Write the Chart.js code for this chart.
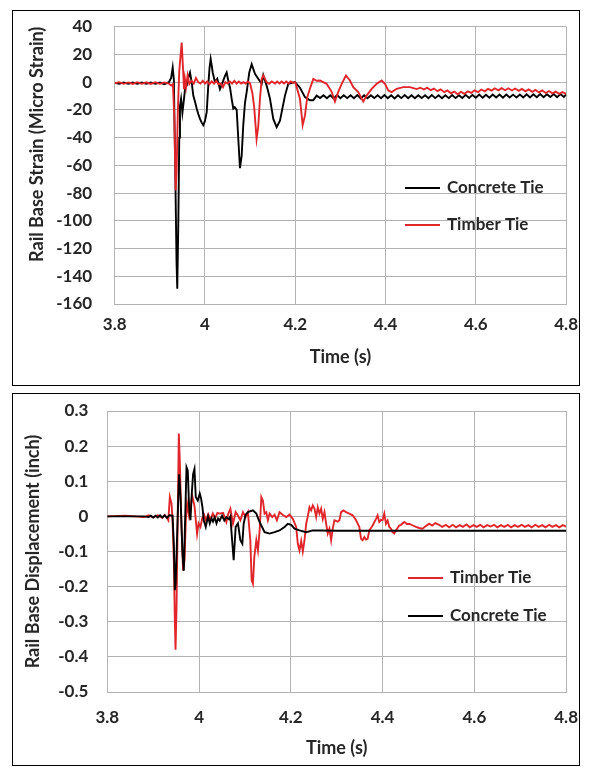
<!DOCTYPE html>
<html>
<head>
<meta charset="utf-8">
<script src="https://cdn.jsdelivr.net/npm/chart.js@4.4.1/dist/chart.umd.min.js"></script>
<style>
  body { margin: 0; background: #fff; }
  .panel { position: absolute; box-sizing: border-box; border: 1.5px solid #000; }
  canvas { position: absolute; }
</style>
</head>
<body>
<div class="panel" style="left:12px;top:10px;width:568px;height:376px"></div>
<div class="panel" style="left:12px;top:393px;width:568px;height:373px"></div>
<canvas id="strainChart" width="564" height="371" style="left:14px;top:12px"></canvas>
<canvas id="dispChart" width="564" height="367" style="left:14px;top:396px"></canvas>
<script>
// tick labels
const timeTicks = [3.8, 4, 4.2, 4.4, 4.6, 4.8];
const strainTicks = [40, 20, 0, -20, -40, -60, -80, -100, -120, -140, -160];
const dispTicks = [0.3, 0.2, 0.1, 0, -0.1, -0.2, -0.3, -0.4, -0.5];

// top chart: rail base strain (micro strain)
const concreteStrainTime = [3.8, 3.81, 3.82, 3.83, 3.84, 3.85, 3.86, 3.87, 3.88, 3.89, 3.9, 3.91, 3.92, 3.925, 3.9285, 3.931, 3.934, 3.937, 3.9386, 3.941, 3.943, 3.9446, 3.947, 3.95, 3.9535, 3.9565, 3.9595, 3.963, 3.9668, 3.9705, 3.9741, 3.9778, 3.9816, 3.9852, 3.9889, 3.9925, 3.9962, 4.0, 4.0038, 4.0073, 4.01, 4.0126, 4.015, 4.0171, 4.0221, 4.0272, 4.0332, 4.0392, 4.0443, 4.048, 4.0516, 4.0555, 4.0591, 4.0627, 4.066, 4.0702, 4.0738, 4.0775, 4.0813, 4.0848, 4.0886, 4.0924, 4.0981, 4.1034, 4.1107, 4.118, 4.1256, 4.1291, 4.1366, 4.144, 4.1513, 4.1588, 4.1661, 4.1772, 4.1845, 4.1993, 4.2104, 4.2215, 4.2325, 4.2399, 4.2474,
  4.255, 4.2625, 4.27, 4.2775, 4.285, 4.2925, 4.3, 4.3075, 4.315, 4.3225, 4.33, 4.3375, 4.345, 4.3525, 4.36, 4.3675, 4.375, 4.3825, 4.39, 4.3975, 4.405, 4.4125, 4.42, 4.4275, 4.435, 4.4425, 4.45, 4.4575, 4.465, 4.4725, 4.48, 4.4875, 4.495, 4.5025, 4.51, 4.5175, 4.525, 4.5325, 4.54, 4.5475, 4.555, 4.5625, 4.57, 4.5775, 4.585, 4.5925, 4.6, 4.6075, 4.615, 4.6225, 4.63, 4.6375, 4.645, 4.6525, 4.66, 4.6675, 4.675, 4.6825, 4.69, 4.6975, 4.705, 4.7125, 4.72, 4.7275, 4.735, 4.7425, 4.75, 4.7575, 4.765, 4.7725, 4.78, 4.7875, 4.795, 4.8];
const concreteStrain = [-0.5, -1.2, -0.3, -1.2, -0.3, -1.2, -0.3, -1.2, -0.3, -1.2, -0.3, -1.5, 0, 3, 10.5, 2, -60, -130, -149, -100, -40, -17, -12, -22, -12, -3, -2.5, 3, 7, 0, -9.7, -14, -19, -23, -26.5, -29, -31, -28, -21.7, -2.5, 10, 16.8, 12, 7, 0, 2.4, -5, 0, 4.5, 7, 1, -4, -12, -19, -18, -20, -41, -62, -53, -31, -15, -7, 7, 13, 6, 2.4, -1.2, 5, -2.5, -12, -26.5, -32.5, -27.7, -9.7, -1.2, 0, -4, -10.8, -13, -13, -9.7,
  -11.5, -9.5, -11.6, -9.4, -11.7, -9.3, -11.6, -9.4, -11.5, -9.4, -11.6, -9.3, -11.7, -9.4, -11.6, -9.5, -11.5, -9.4, -11.6, -9.3, -11.6, -9.4, -11.7, -9.4, -11.5, -9.3, -11.6, -9.4, -11.6, -9.5, -11.5, -9.4, -11.6, -9.3, -11.5, -9.4, -11.6, -9.4, -11.5, -9.3, -11.5, -9.4, -11.4, -9.2, -11.4, -9.2,
  -11.2, -9.0, -11.3, -9.1, -11.2, -9.0, -11.1, -9.0, -11.2, -8.9, -11.1, -9.0, -11.0, -8.9, -11.1, -8.8, -11.0, -8.8,
  -10.8, -8.6, -10.8, -8.7, -10.7, -8.6, -10.8, -8.6, -10.7, -8.8];

const timberStrainTime = [3.8, 3.81, 3.82, 3.83, 3.84, 3.85, 3.86, 3.87, 3.88, 3.89, 3.9, 3.91, 3.92, 3.925, 3.929, 3.932, 3.935, 3.937, 3.94, 3.943, 3.9484, 3.951, 3.9535, 3.9555, 3.958, 3.9615, 3.9653, 3.97, 3.975, 3.98, 3.985, 3.99, 3.995, 4.0, 4.005, 4.01, 4.015, 4.02, 4.025, 4.03, 4.035, 4.04, 4.045, 4.05, 4.055, 4.06, 4.065, 4.07, 4.075, 4.08, 4.085, 4.09, 4.095, 4.1, 4.105, 4.109, 4.1143, 4.118, 4.1218, 4.1256, 4.1291, 4.1366, 4.142, 4.148, 4.155, 4.16, 4.165, 4.17, 4.175, 4.18, 4.185, 4.19, 4.195, 4.2, 4.2104, 4.2164, 4.2215, 4.2266, 4.2325, 4.2399, 4.2474, 4.2548, 4.262, 4.2695, 4.2806, 4.2879, 4.2952, 4.3028, 4.3123, 4.3211, 4.3285, 4.3395, 4.3506, 4.3581, 4.3692, 4.3803, 4.3914, 4.3987, 4.406, 4.4135, 4.4246, 4.4392, 4.454, 4.4689,
  4.477, 4.485, 4.492, 4.5, 4.507, 4.515, 4.522, 4.53, 4.537, 4.545, 4.552, 4.56, 4.567, 4.575, 4.582, 4.59, 4.597, 4.605, 4.612, 4.62, 4.627, 4.635, 4.642, 4.65, 4.657, 4.665, 4.672, 4.68, 4.687, 4.695, 4.702, 4.71, 4.717, 4.725, 4.732, 4.74, 4.747, 4.755, 4.762, 4.77, 4.777, 4.785, 4.792, 4.8];
const timberStrain = [-0.8, 0, -1.2, -0.2, -1.3, 0, -1.2, -0.1, -1.3, 0, -1.2, -0.2, -1, -2.5, -1.5, -25, -78, -65, -20, 8, 28.5, 12, -5, 2.4, -3.6, 4.8, -1.2, 1, -1, 3, 0, -1, 1, -1, 0.5, -1.5, 0.5, -1, 1, -1.5, -1, -3.6, 0, -1, 0.5, -1, 1, -1, 0.5, -1, 0, -1, 0.5, -1, -8, -18, -41, -32, -12, 2.4, 4.8, 0, -1.2, 0.5, -1, 0.5, -1, 0.5, -1, 0.5, -1, 0.5, -0.5, 0, -12, -31, -24, -10.8, -4.8, 2.4, 1, 1.2, 0, -1.2, -7, -14, -7, -1.2, 4.8, 1.2, -3.6, -7.2, -14, -9.7, -4.8, -1.2, 1.2, -1.2, -6, -7.2, -4.8, -3.6, -3.6, -5,
  -4.0, -5.3, -4.0, -5.8, -4.6, -6.5, -5.2, -7.2, -6.0, -8.0, -6.8, -8.8, -7.0, -8.4, -6.6, -7.8, -5.9, -7.2, -5.3, -6.6, -4.8, -6.1, -4.4, -5.9, -4.3, -5.8, -4.4, -6.0, -4.6, -6.3, -4.9, -6.6, -5.2, -7.0, -5.6, -7.4, -6.0, -7.8, -6.4, -8.1, -6.8, -8.4, -7.2, -8.4];

// bottom chart: rail base displacement (inch)
const concreteDispTime = [3.8, 3.84, 3.88, 3.89, 3.895, 3.9, 3.905, 3.91, 3.915, 3.92, 3.925, 3.93, 3.935, 3.9422, 3.945, 3.9472, 3.949, 3.9543, 3.9565, 3.9596, 3.9639, 3.9667, 3.9696, 3.9726, 3.9754, 3.9783, 3.9813, 3.9841, 3.987, 3.99, 3.9928, 3.9972, 4.0015, 4.0045, 4.0074, 4.0102, 4.0146, 4.0196, 4.0233, 4.027, 4.0304, 4.034, 4.038, 4.0415, 4.045, 4.05, 4.055, 4.0596, 4.065, 4.0683, 4.0704, 4.0754, 4.0798, 4.0848, 4.09, 4.0943, 4.0972, 4.1015, 4.1065, 4.1174, 4.1248, 4.132, 4.1428, 4.1537, 4.1646, 4.1754, 4.1863, 4.1935, 4.2009, 4.208, 4.2189, 4.2335, 4.2478, 4.2624, 4.3, 4.4, 4.5, 4.6, 4.7, 4.8];
const concreteDisp = [0, 0, 0, -0.002, 0.002, -0.003, 0.002, -0.003, 0.003, -0.003, 0.003, -0.004, 0.003, 0.002, -0.077, -0.21, -0.19, 0.036, 0.12, 0.055, -0.106, -0.155, -0.011, 0.14, 0.13, 0.026, -0.011, 0.065, 0.12, 0.135, 0.055, 0.045, 0.065, 0.05, 0.026, -0.011, -0.03, 0, -0.02, -0.005, -0.015, -0.003, -0.02, -0.006, -0.012, 0.002, -0.012, -0.002, -0.008, 0, -0.04, -0.125, -0.03, -0.02, -0.068, -0.078, -0.021, 0.005, 0.012, 0.017, 0.008, -0.016, -0.045, -0.049, -0.045, -0.04, -0.03, -0.021, -0.024, -0.035, -0.04, -0.045, -0.04, -0.04, -0.041, -0.041, -0.041, -0.041, -0.041, -0.041];

const timberDispTime = [3.8, 3.84, 3.88, 3.89, 3.9, 3.91, 3.92, 3.925, 3.93, 3.933, 3.9363, 3.94, 3.9422, 3.945, 3.9472, 3.9487, 3.9509, 3.9535, 3.9559, 3.958, 3.9617, 3.9652, 3.9683, 3.9711, 3.9739, 3.9783, 3.9813, 3.9848, 3.99, 3.9957, 3.999, 4.003, 4.007, 4.011, 4.015, 4.02, 4.025, 4.03, 4.035, 4.04, 4.045, 4.0523, 4.0596, 4.063, 4.0683, 4.0739, 4.0798, 4.0835, 4.09, 4.0957, 4.1015, 4.1065, 4.1117, 4.1146, 4.1174, 4.1204, 4.1248, 4.1283, 4.132, 4.1357, 4.1391, 4.1428, 4.1465, 4.15, 4.1537, 4.1596, 4.1646, 4.1696, 4.1754, 4.1826, 4.19, 4.1972, 4.2043, 4.2117, 4.2152, 4.2189, 4.2226, 4.2261, 4.2298, 4.2335, 4.237, 4.2407, 4.2443, 4.2478, 4.2515, 4.2552, 4.2587, 4.2624, 4.2661, 4.2696, 4.2733, 4.277, 4.2804, 4.2841, 4.2878, 4.2913, 4.295, 4.302, 4.3059, 4.3096, 4.3146, 4.3204, 4.3276, 4.3348, 4.3422, 4.3493, 4.353, 4.3565, 4.3602, 4.364, 4.3674, 4.3711, 4.3783, 4.3857, 4.3891, 4.3928, 4.3965, 4.4, 4.4037, 4.4074, 4.411, 4.4146, 4.4183, 4.4217, 4.4254, 4.4291, 4.4363, 4.44, 4.4472, 4.453, 4.458, 4.466, 4.4726, 4.4798, 4.487, 4.495, 4.5015, 4.508, 4.515, 4.5233, 4.53, 4.538, 4.545,
  4.553, 4.56, 4.568, 4.575, 4.583, 4.59, 4.598, 4.605, 4.613, 4.62, 4.628, 4.635, 4.643, 4.65, 4.658, 4.665, 4.673, 4.68, 4.688, 4.695, 4.703, 4.71, 4.718, 4.725, 4.733, 4.74, 4.748, 4.755, 4.763, 4.77, 4.778, 4.785, 4.793, 4.8];
const timberDisp = [0, 0.002, -0.002, 0.003, -0.003, 0.003, -0.004, 0.004, -0.004, -0.011, 0.055, 0.036, -0.011, -0.125, -0.296, -0.38, -0.26, 0, 0.236, 0.16, -0.03, -0.154, -0.125, -0.011, 0.036, 0, 0.02, 0.06, 0.03, -0.05, -0.02, -0.03, -0.005, 0.005, -0.012, 0.006, -0.01, 0.008, -0.006, 0.01, 0.008, 0.01, -0.016, 0.005, 0.022, -0.021, 0.012, 0.005, -0.011, 0.012, -0.002, 0.012, -0.068, -0.182, -0.192, -0.116, -0.068, -0.097, -0.04, 0.055, 0.045, 0.008, 0.012, -0.011, 0.008, -0.002, 0.005, -0.011, 0.012, 0.004, -0.002, 0.005, -0.007, -0.03, -0.078, -0.097, -0.07, -0.1, -0.068, -0.021, 0, 0.026, 0.017, 0.031, 0.022, -0.002, 0.026, 0.008, 0.022, -0.007, 0.012, -0.021, -0.049, -0.035, -0.068, -0.035, -0.011, -0.015, -0.011, 0.012, 0.017, 0.012, 0.008, 0.003, -0.011, -0.03, -0.064, -0.068, -0.059, -0.066, -0.064, -0.04, -0.026, -0.007, 0.003, -0.016, -0.01, -0.011, 0.008, -0.021, -0.012, -0.03, -0.035, -0.045, -0.049, -0.04, -0.026, -0.024, -0.016, -0.022, -0.021, -0.026, -0.03, -0.033, -0.035, -0.027, -0.021, -0.026, -0.019, -0.024, -0.03, -0.024, -0.031,
  -0.024, -0.031, -0.025, -0.03, -0.023, -0.031, -0.025, -0.03, -0.024, -0.031, -0.025, -0.029, -0.024, -0.031, -0.025, -0.03, -0.024, -0.031, -0.025, -0.03, -0.024, -0.03, -0.025, -0.031, -0.024, -0.03, -0.025, -0.031, -0.024, -0.03, -0.025, -0.031, -0.025, -0.029];

const seriesNames = ['Concrete Tie', 'Timber Tie'];

const BLACK = '#000000';
const RED = '#e0262b';
const GRID = '#b3b3b3';
const TEXT = '#262626';
const FONT = 'Lato, "Open Sans", sans-serif';
Chart.defaults.font.family = FONT;
Chart.defaults.color = TEXT;
const tickFont = { size: 17, weight: 'bold' };
const titleFont = { size: 18, weight: 'bold' };

const toPoints = (ts, vs) => ts.map((t, i) => ({ x: t, y: vs[i] }));

// legend drawn inside the plot area, rows in the order given
const insideLegend = {
  id: 'insideLegend',
  afterDraw(chart, args, opts) {
    const { ctx } = chart;
    ctx.save();
    ctx.font = `bold 17px ${FONT}`;
    ctx.textBaseline = 'middle';
    opts.rows.forEach((name, i) => {
      const ds = chart.data.datasets.find((d) => d.label === name);
      const y = opts.y + i * opts.gap;
      ctx.strokeStyle = ds.borderColor;
      ctx.lineWidth = 2;
      ctx.beginPath();
      ctx.moveTo(opts.x, y);
      ctx.lineTo(opts.x + 35, y);
      ctx.stroke();
      ctx.fillStyle = TEXT;
      ctx.fillText(name, opts.x + 42, y);
    });
    ctx.restore();
  },
};

function lineSet(label, color, data) {
  return {
    label,
    data,
    borderColor: color,
    backgroundColor: color,
    borderWidth: 1.9,
    pointRadius: 0,
    tension: 0,
    fill: false,
  };
}

// tick gaps are made with transparent tick marks so they don't push the plot area in
function buildChart(id, cfg) {
  const canvas = document.getElementById(id);
  return new Chart(canvas.getContext('2d'), {
    type: 'line',
    data: { datasets: cfg.datasets },
    options: {
      responsive: false,
      animation: false,
      layout: { padding: cfg.padding },
      plugins: {
        legend: { display: false },
        tooltip: { enabled: false },
        insideLegend: cfg.legend,
      },
      scales: {
        x: {
          type: 'linear',
          min: 3.8,
          max: 4.8,
          afterBuildTicks: (s) => { s.ticks = timeTicks.map((v) => ({ value: v })); },
          afterFit: (s) => { s.height = cfg.xHeight; },
          grid: { color: GRID, tickLength: cfg.xTickGap, tickColor: 'rgba(0,0,0,0)' },
          border: { color: GRID },
          ticks: { font: tickFont, padding: 0, maxRotation: 0, callback: (v) => String(v) },
          title: { display: true, text: 'Time (s)', font: titleFont, padding: { top: 0, bottom: cfg.xTitlePad } },
        },
        y: {
          min: cfg.yMin,
          max: cfg.yMax,
          afterBuildTicks: (s) => { s.ticks = cfg.yTicks.map((v) => ({ value: v })); },
          afterFit: (s) => { s.width = cfg.yWidth; },
          grid: { color: GRID, tickLength: cfg.yTickGap, tickColor: 'rgba(0,0,0,0)' },
          border: { color: GRID },
          ticks: { font: tickFont, padding: 0, callback: (v) => String(v) },
          title: { display: true, text: cfg.yTitle, font: titleFont, align: cfg.yTitleAlign, padding: { top: cfg.yTitlePad, bottom: 0 } },
        },
      },
    },
    plugins: [insideLegend],
  });
}

buildChart('strainChart', {
  datasets: [
    lineSet(seriesNames[1], RED, toPoints(timberStrainTime, timberStrain)),
    lineSet(seriesNames[0], BLACK, toPoints(concreteStrainTime, concreteStrain)),
  ],
  padding: { left: 0, right: 11.8, top: 14.7, bottom: 0 },
  xHeight: 79,
  yWidth: 100.7,
  xTickGap: 10.8,
  xTitlePad: 14.9,
  yTickGap: 22.5,
  yTitlePad: 12.1,
  yTitleAlign: 'end',
  yMin: -160,
  yMax: 40,
  yTicks: strainTicks,
  yTitle: 'Rail Base Strain (Micro Strain)',
  legend: { rows: [seriesNames[0], seriesNames[1]], x: 391, y: 176, gap: 37 },
});

buildChart('dispChart', {
  datasets: [
    lineSet(seriesNames[0], BLACK, toPoints(concreteDispTime, concreteDisp)),
    lineSet(seriesNames[1], RED, toPoints(timberDispTime, timberDisp)),
  ],
  padding: { left: 0, right: 10.7, top: 15, bottom: 0 },
  xHeight: 71,
  yWidth: 93.3,
  xTickGap: 15.8,
  xTitlePad: 3.9,
  yTickGap: 19,
  yTitlePad: 7.9,
  yTitleAlign: 'center',
  yMin: -0.5,
  yMax: 0.3,
  yTicks: dispTicks,
  yTitle: 'Rail Base Displacement (inch)',
  legend: { rows: [seriesNames[1], seriesNames[0]], x: 394, y: 182, gap: 38 },
});
</script>
</body>
</html>
